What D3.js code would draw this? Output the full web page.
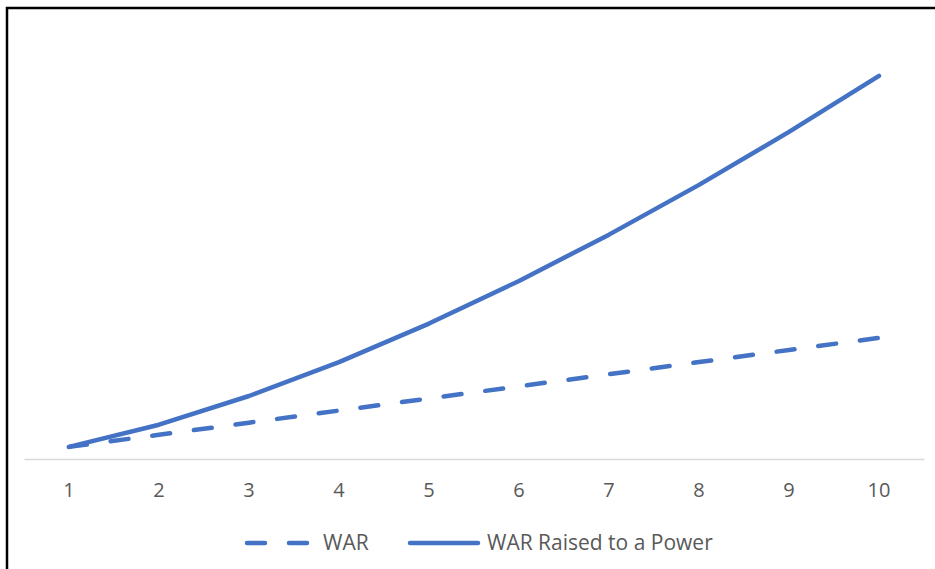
<!DOCTYPE html>
<html>
<head>
<meta charset="utf-8">
<script src="https://cdn.jsdelivr.net/npm/d3@7"></script>
<style>
  html, body { margin: 0; padding: 0; background: #fff; }
  svg { display: block; }
  text { font-family: "Open Sans", Lato, sans-serif; fill: #595959; }
</style>
</head>
<body>
<svg id="chart" width="935" height="569"></svg>
<script>
const categories = ["1", "2", "3", "4", "5", "6", "7", "8", "9", "10"];
const warValues = [1, 2, 3, 4, 5, 6, 7, 8, 9, 10];
const powerValues = [1.00, 2.83, 5.20, 8.00, 11.18, 14.70, 18.52, 22.63, 27.00, 31.62];
const seriesNames = ["WAR", "WAR Raised to a Power"];

const svg = d3.select("#chart");
const W = 935, H = 569;
const color = "#4472C4";

svg.append("rect").attr("width", W).attr("height", H).attr("fill", "#fff");

// frame (top and left visible)
svg.append("path")
  .attr("d", `M7,${H} L7,8 L${W},8`)
  .attr("fill", "none").attr("stroke", "#000").attr("stroke-width", 2.5);

const plot = { left: 24, right: 924, top: 35, bottom: 459 };

const x = d3.scaleBand().domain(categories).range([plot.left, plot.right]);
const y = d3.scaleLinear().domain([0, 35]).range([plot.bottom, plot.top]);

// x axis
const xAxis = d3.axisBottom(x).tickSize(0).tickPadding(24);
const gx = svg.append("g").attr("transform", `translate(0,${plot.bottom})`).call(xAxis);
gx.select(".domain").attr("stroke", "#d9d9d9").attr("stroke-width", 1.5);
gx.selectAll("text").style("font-size", "20px").style("font-family", "\"Open Sans\", sans-serif").attr("fill", "#595959");

const line = d3.line()
  .x((d, i) => x(categories[i]) + x.bandwidth() / 2)
  .y(d => y(d));

svg.append("path").datum(warValues)
  .attr("d", line)
  .attr("fill", "none").attr("stroke", color).attr("stroke-width", 4.5)
  .attr("stroke-linecap", "round").attr("stroke-dasharray", "18,24");

svg.append("path").datum(powerValues)
  .attr("d", line)
  .attr("fill", "none").attr("stroke", color).attr("stroke-width", 4.5)
  .attr("stroke-linecap", "round").attr("stroke-linejoin", "round");

// legend
const ly = 543;
const lg = svg.append("g");
lg.append("line").attr("x1", 247).attr("x2", 308).attr("y1", ly).attr("y2", ly)
  .attr("stroke", color).attr("stroke-width", 4.5).attr("stroke-linecap", "round")
  .attr("stroke-dasharray", "18,24");
lg.append("text").attr("x", 323).attr("y", ly).attr("dy", "0.35em")
  .style("font-size", "21px").text(seriesNames[0]);
lg.append("line").attr("x1", 410).attr("x2", 478).attr("y1", ly).attr("y2", ly)
  .attr("stroke", color).attr("stroke-width", 4.5).attr("stroke-linecap", "round");
lg.append("text").attr("x", 487).attr("y", ly).attr("dy", "0.35em")
  .style("font-size", "21px").text(seriesNames[1]);
</script>
</body>
</html>
